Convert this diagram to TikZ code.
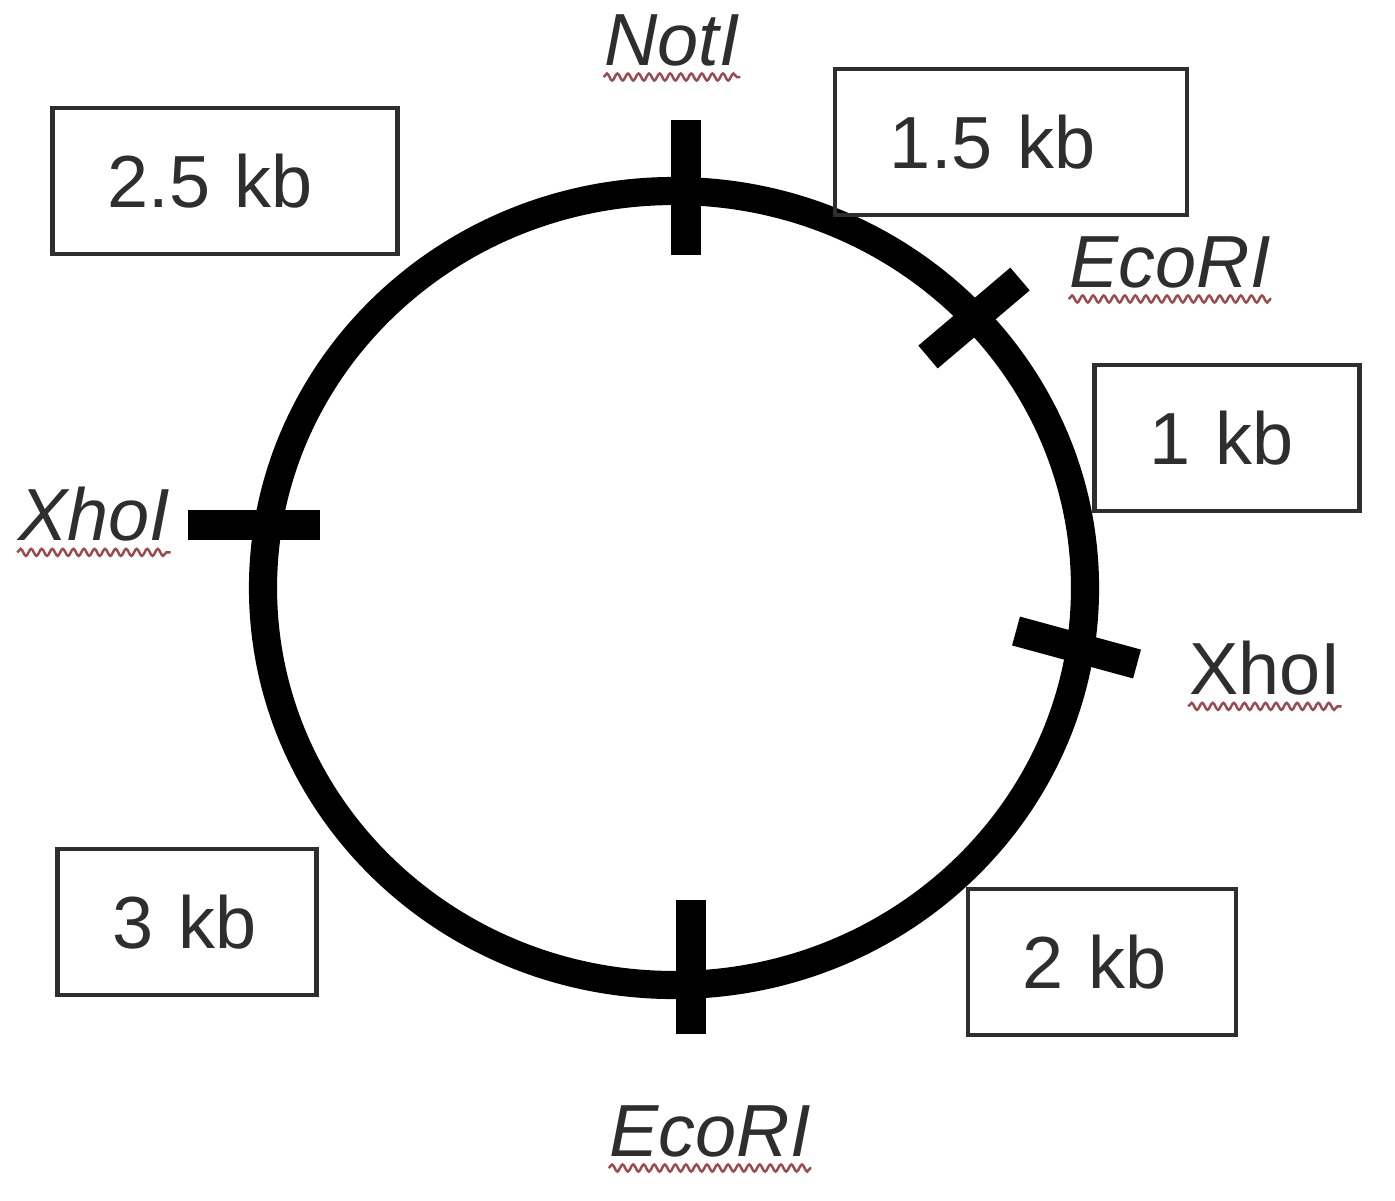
\documentclass[tikz,border=0pt]{standalone}
\usepackage{fontspec}
\setmainfont{Liberation Sans}
\usetikzlibrary{decorations.pathmorphing}
\definecolor{inkgrey}{HTML}{2E2E2E}
\definecolor{spellred}{HTML}{9C4A4E}
\tikzset{plasmid/.style={draw=black, line width=8pt}}
\tikzset{cutsite/.style={draw=black, line width=8.5pt}}
\tikzset{sizebox/.style={rectangle, draw=inkgrey, line width=1.2pt, text=inkgrey, align=left, inner xsep=0.55cm, inner ysep=0pt, minimum height=1.46cm, font=\fontsize{21}{25}\selectfont}}
\tikzset{enzyme/.style={text=inkgrey, inner sep=0pt, font=\fontsize{21}{25}\selectfont\itshape}}
\tikzset{enzymeup/.style={enzyme, font=\fontsize{21}{25}\selectfont}}
\tikzset{squiggle/.style={draw=spellred, line width=0.7pt, decorate, decoration={snake, amplitude=1pt, segment length=3pt}}}

\begin{document}
\begin{tikzpicture}[x=0.01cm, y=-0.01cm]
    \useasboundingbox (0,0) rectangle (1395,1200);

    % plasmid ring
    \draw[plasmid] (674,588) ellipse [x radius=411, y radius=397];

    % cut sites
    \draw[cutsite] (686,120)  -- (686,255);
    \draw[cutsite] (928,357)  -- (1020,279);
    \draw[cutsite] (188,525)  -- (320,525);
    \draw[cutsite] (1016,631) -- (1137,664);
    \draw[cutsite] (691,900)  -- (691,1034);

    % enzyme names
    \node[enzyme]   (noti)  at (672,40)    {NotI};
    \node[enzyme]   (ecoa)  at (1170,262)  {EcoRI};
    \node[enzyme]   (xhoa)  at (94,514)    {XhoI};
    \node[enzymeup] (xhob)  at (1265,668)  {XhoI};
    \node[enzyme]   (ecob)  at (710,1131)  {EcoRI};

    \draw[squiggle] ([yshift=-3pt]noti.south west) -- ([yshift=-3pt]noti.south east);
    \draw[squiggle] ([yshift=-3pt]ecoa.south west) -- ([yshift=-3pt]ecoa.south east);
    \draw[squiggle] ([yshift=-3pt]xhoa.south west) -- ([yshift=-3pt]xhoa.south east);
    \draw[squiggle] ([yshift=-3pt]xhob.south west) -- ([yshift=-3pt]xhob.south east);
    \draw[squiggle] ([yshift=-3pt]ecob.south west) -- ([yshift=-3pt]ecob.south east);

    % fragment sizes
    \node[sizebox, text width=2.35cm] (kb25) at (225,181)  {2.5 kb};
    \node[sizebox, text width=2.42cm] (kb15) at (1011,142) {1.5 kb};
    \node[sizebox, text width=1.55cm] (kb1)  at (1227,438) {1 kb};
    \node[sizebox, text width=1.49cm] (kb3)  at (187,922)  {3 kb};
    \node[sizebox, text width=1.58cm] (kb2)  at (1102,962) {2 kb};
\end{tikzpicture}
\end{document}
